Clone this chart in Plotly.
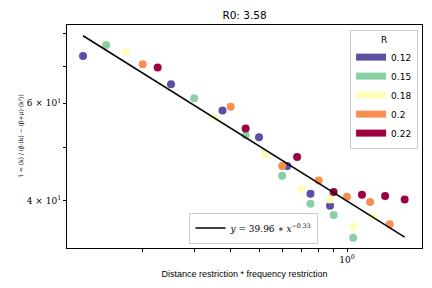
import plotly.graph_objects as go

# R groups (legend labels) and colours
r_labels = ["0.12", "0.15", "0.18", "0.2", "0.22"]
r_colors = ["#5e4fa2", "#88d0a4", "#fefebb", "#f98e52", "#9e0142"]

# x = distance restriction * frequency restriction, per R group
x_r012 = [0.125, 0.25, 0.375, 0.5, 0.625, 0.75, 0.875]
x_r015 = [0.15, 0.3, 0.45, 0.6, 0.75, 0.9, 1.05]
x_r018 = [0.175, 0.35, 0.525, 0.7, 0.875, 1.05, 1.225]
x_r020 = [0.2, 0.4, 0.6, 0.8, 1.0, 1.2, 1.4]
x_r022 = [0.225, 0.45, 0.675, 0.9, 1.125, 1.35, 1.575]

# y = tau hat, per R group
y_r012 = [73.0, 64.9, 58.2, 52.1, 46.2, 41.2, 39.2]
y_r015 = [76.4, 61.2, 52.5, 44.4, 39.5, 37.7, 34.3]
y_r018 = [74.1, 56.5, 48.5, 42.0, 40.2, 35.9, 37.5]
y_r020 = [70.5, 59.1, 46.2, 43.5, 40.7, 39.8, 36.3]
y_r022 = [69.6, 54.0, 48.0, 41.5, 41.0, 40.8, 40.2]

# power-law fit shown in legend
fit_a = 39.96
fit_b = -0.33

xs = [x_r012, x_r015, x_r018, x_r020, x_r022]
ys = [y_r012, y_r015, y_r018, y_r020, y_r022]

fig = go.Figure()

# legend proxies (rectangular patches)
for lab, col in zip(r_labels, r_colors):
    fig.add_trace(go.Scatter(x=[None], y=[None], mode="lines",
                             line=dict(color=col, width=7),
                             name=lab, legend="legend"))

for xv, yv, col in zip(xs, ys, r_colors):
    fig.add_trace(go.Scatter(x=xv, y=yv, mode="markers",
                             marker=dict(color=col, size=8, line=dict(width=0)),
                             showlegend=False))

all_x = sorted(set(v for xv in xs for v in xv))
fit_x = [all_x[0], all_x[-1]]
fit_y = [fit_a * v ** fit_b for v in fit_x]
fig.add_trace(go.Scatter(x=fit_x, y=fit_y, mode="lines",
                         line=dict(color="black", width=1.5),
                         name="<i>y</i> = 39.96 ∗ <i>x</i><sup>−0.33</sup>",
                         legend="legend2"))

xtick_vals = [0.2, 0.3, 0.4, 0.5, 0.6, 0.7, 0.8, 0.9, 1.0]
xtick_text = ["", "", "", "", "", "", "", "", "10<sup>0</sup>"]
ytick_vals = [40, 50, 60, 70, 80]
ytick_text = ["4 × 10<sup>1</sup>", "", "6 × 10<sup>1</sup>", "", ""]

axis_common = dict(showline=True, linecolor="black", linewidth=1, mirror=True,
                   showgrid=False, zeroline=False, ticks="outside", ticklen=3,
                   tickcolor="black", tickwidth=0.8, automargin=False)

fig.update_layout(
    width=432, height=288,
    margin=dict(l=67, r=10, t=25, b=40),
    paper_bgcolor="white", plot_bgcolor="white",
    title=dict(text="R0: 3.58", x=0.5, xref="paper", xanchor="center",
               y=1 - 15 / 288, yanchor="middle",
               font=dict(family="DejaVu Sans", size=10.5, color="black")),
    xaxis=dict(type="log", range=[-0.958, 0.2566], tickvals=xtick_vals,
               ticktext=xtick_text,
               tickfont=dict(family="DejaVu Serif", size=9, color="black"),
               title=dict(text="Distance restriction * frequency restriction",
                          font=dict(family="Liberation Sans", size=9, color="black"),
                          standoff=6),
               **axis_common),
    yaxis=dict(type="log", range=[1.517, 1.919], tickvals=ytick_vals,
               ticktext=ytick_text,
               tickfont=dict(family="DejaVu Serif", size=9, color="black"),
               **axis_common),
    annotations=[dict(text="τ̂ = ⟨k⟩ / (β·⟨k⟩ − (β+μ)·⟨k²⟩)",
                      xref="paper", yref="paper", x=(20 - 67) / 355, y=0.5,
                      xanchor="center", yanchor="middle", textangle=-90,
                      showarrow=False,
                      font=dict(family="DejaVu Serif", size=6, color="black"))],
    legend=dict(x=0.989, xanchor="right", y=0.978, yanchor="top",
                bgcolor="white", bordercolor="#cccccc", borderwidth=1,
                title=dict(text="R", side="top center",
                           font=dict(family="DejaVu Sans", size=9, color="black")),
                font=dict(family="DejaVu Sans", size=9, color="black"),
                itemwidth=30, tracegroupgap=0),
    legend2=dict(x=0.345, xanchor="left", y=0.02, yanchor="bottom",
                 bgcolor="white", bordercolor="#cccccc", borderwidth=1,
                 font=dict(family="DejaVu Serif", size=9, color="black")),
)

fig.write_html("out.html", config={"displayModeBar": False},
               post_script="document.body.style.margin='0px';"
                           "document.body.style.overflow='hidden';")
